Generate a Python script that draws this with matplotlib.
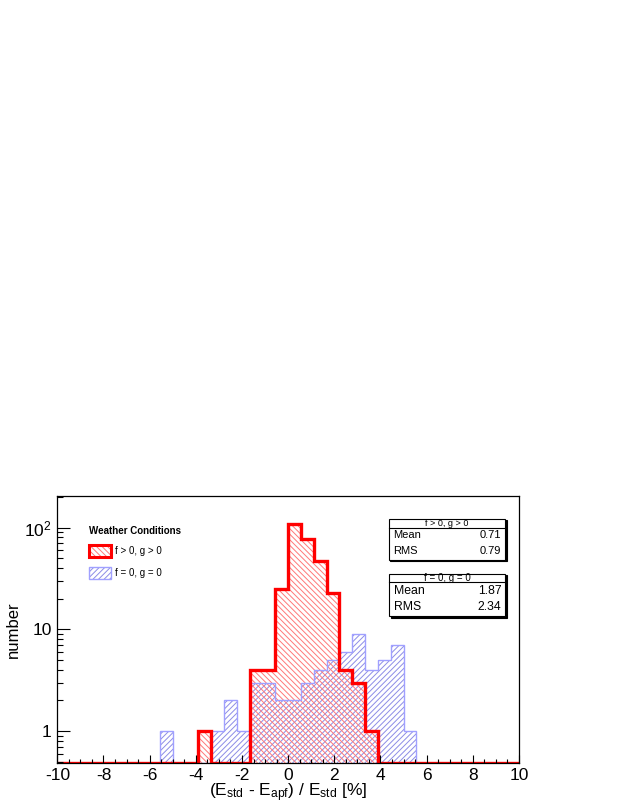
import numpy as np
import matplotlib
matplotlib.use('Agg')
import matplotlib.pyplot as plt
from matplotlib.patches import Patch, Rectangle
from matplotlib.legend_handler import HandlerTuple
from matplotlib.ticker import FixedLocator, FixedFormatter, LogLocator, MultipleLocator

plt.rcParams['font.family'] = ['Liberation Sans', 'DejaVu Sans']
plt.rcParams['mathtext.fontset'] = 'custom'
plt.rcParams['mathtext.rm'] = 'Liberation Sans'
plt.rcParams['mathtext.it'] = 'Liberation Sans:italic'
plt.rcParams['axes.unicode_minus'] = False
plt.rcParams['hatch.linewidth'] = 0.7

# 36 bins from -10 to 10
bin_lo, bin_hi, n_bins = -10, 10, 36
counts_fg = [0, 0, 0, 0, 0, 0, 0, 0, 0, 0, 0, 1,
             0, 0, 0, 4, 4, 25, 108, 78, 47, 23, 4, 3,
             1, 0, 0, 0, 0, 0, 0, 0, 0, 0, 0, 0]
counts_00 = [0, 0, 0, 0, 0, 0, 0, 0, 1, 0, 0, 0,
             1, 2, 1, 3, 3, 2, 2, 3, 4, 5, 6, 9,
             4, 5, 7, 1, 0, 0, 0, 0, 0, 0, 0, 0]
labels = ['f > 0, g > 0', 'f = 0, g = 0']
stats_mean = [0.71, 1.87]
stats_rms = [0.79, 2.34]
ymin, ymax = 0.488, 205

edges = np.linspace(bin_lo, bin_hi, n_bins + 1)
red, red_hatch = '#ff0000', '#ff7878'
blue, blue_hatch = '#a0a0ff', '#8c8ce6'

fig = plt.figure(figsize=(6.23, 8.06), dpi=100)
ax = fig.add_axes([0.092, 0.0537, 0.741, 0.331])
ax.set_yscale('log')

v_fg = np.maximum(np.array(counts_fg, float), ymin)
v_00 = np.maximum(np.array(counts_00, float), ymin)

# hatched fills
ax.stairs(v_00, edges, baseline=ymin, fill=True, facecolor='none',
          edgecolor=blue_hatch, hatch='//////', linewidth=0)
ax.stairs(v_fg, edges, baseline=ymin, fill=True, facecolor='none',
          edgecolor=red_hatch, hatch='\\\\\\\\\\\\', linewidth=0)
# outlines
ax.stairs(v_00, edges, baseline=None, color=blue, linewidth=1.0)
ax.stairs(v_fg, edges, baseline=None, color=red, linewidth=2.4)

ax.set_xlim(bin_lo, bin_hi)
ax.set_ylim(ymin, ymax)

ax.xaxis.set_major_locator(MultipleLocator(2))
ax.xaxis.set_minor_locator(MultipleLocator(0.5))
ax.yaxis.set_major_locator(FixedLocator([1, 10, 100]))
ax.yaxis.set_major_formatter(FixedFormatter(['1', '10', '$10^{2}$']))
ax.yaxis.set_minor_locator(LogLocator(base=10, subs=np.arange(2, 10)))
ax.yaxis.set_minor_formatter(FixedFormatter([]))

ax.tick_params(axis='both', which='both', direction='in', top=False, right=False,
               labelsize=12.5, width=0.8)
ax.tick_params(axis='x', which='major', length=5.5, pad=4)
ax.tick_params(axis='x', which='minor', length=3)
ax.tick_params(axis='y', which='major', length=9.5, pad=4)
ax.tick_params(axis='y', which='minor', length=4.5)
for s in ax.spines.values():
    s.set_linewidth(0.9)

ax.set_xlabel(r'(E$_{\mathrm{std}}$ - E$_{\mathrm{apf}}$) / E$_{\mathrm{std}}$ [%]',
              fontsize=12.5, labelpad=-1)
ax.set_ylabel('number', fontsize=12, labelpad=2)

# legend
h_fg = (Patch(facecolor='none', edgecolor=red_hatch, hatch='\\\\\\\\\\\\', linewidth=0),
        Patch(facecolor='none', edgecolor=red, linewidth=2.2))
h_00 = (Patch(facecolor='none', edgecolor=blue_hatch, hatch='//////', linewidth=0),
        Patch(facecolor='none', edgecolor=blue, linewidth=1.0))
leg = ax.legend([h_fg, h_00], labels, handler_map={tuple: HandlerTuple(ndivide=1, pad=0)},
                title='Weather Conditions', title_fontproperties={'weight': 'bold', 'size': 7},
                fontsize=7, alignment='left', frameon=False, loc='upper left',
                bbox_to_anchor=(89 / 623, 1 - 526 / 806), bbox_transform=fig.transFigure,
                borderpad=0, borderaxespad=0, handlelength=2.25, handleheight=1.57,
                handletextpad=0.4, labelspacing=0.95)
leg._legend_box.sep = 6.5

# stats boxes (pixel geometry of the reference)
boxes = [(388.5, 518.5, 505, 559.5, 527.5), (389, 573.5, 505, 616, 582)]
for i, (x0, y0, x1, y1, yh) in enumerate(boxes):
    fx0, fx1 = x0 / 623, x1 / 623
    fy0, fy1 = 1 - y1 / 806, 1 - y0 / 806
    fyh = 1 - yh / 806
    sh = Rectangle((fx0 + 1.5 / 623, fy0 - 1.5 / 806), fx1 - fx0, fy1 - fy0,
                   transform=fig.transFigure, facecolor='black', edgecolor='black', lw=0.8)
    bx = Rectangle((fx0, fy0), fx1 - fx0, fy1 - fy0, transform=fig.transFigure,
                   facecolor='white', edgecolor='black', lw=0.8)
    fig.add_artist(sh)
    fig.add_artist(bx)
    fig.add_artist(plt.Line2D([fx0, fx1], [fyh, fyh], transform=fig.transFigure,
                              color='black', lw=0.8))
    fs = 8 if i == 0 else 8.8
    fig.text((fx0 + fx1) / 2, (fy1 + fyh) / 2, labels[i], ha='center',
             va='center', fontsize=6.5 if i == 0 else 7)
    row_h = (fyh - fy0) / 2
    fig.text(fx0 + 5 / 623, fyh - row_h * 0.5, 'Mean', ha='left', va='center', fontsize=fs)
    fig.text(fx1 - 3.5 / 623, fyh - row_h * 0.5, '%.2f' % stats_mean[i], ha='right', va='center', fontsize=fs)
    fig.text(fx0 + 5 / 623, fyh - row_h * 1.5, 'RMS', ha='left', va='center', fontsize=fs)
    fig.text(fx1 - 3.5 / 623, fyh - row_h * 1.5, '%.2f' % stats_rms[i], ha='right', va='center', fontsize=fs)

fig.savefig('out.png', dpi=100)
